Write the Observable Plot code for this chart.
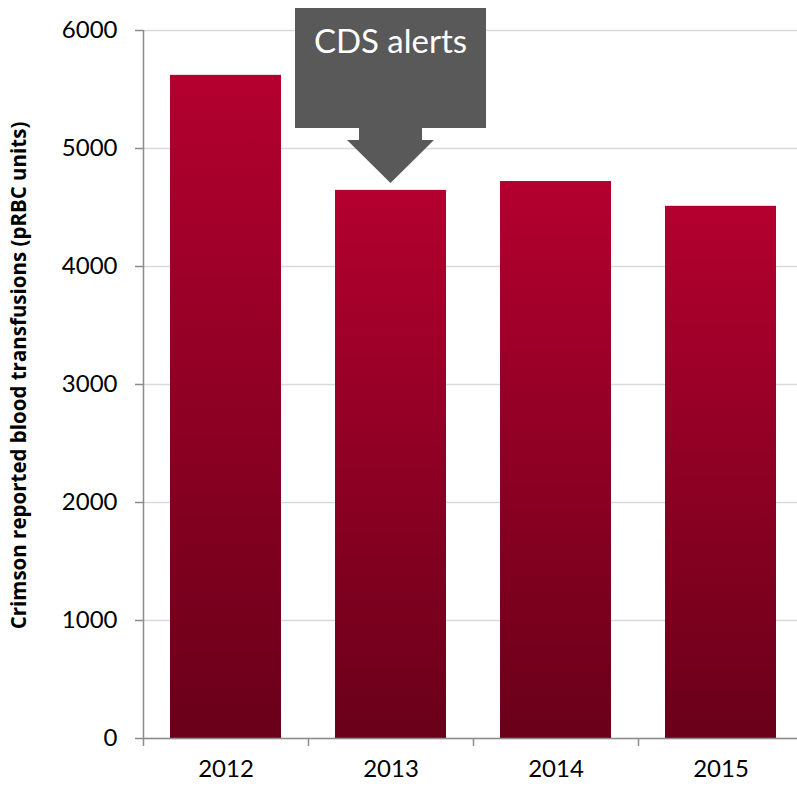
<!DOCTYPE html>
<html><head><meta charset="utf-8">
<script src="https://cdn.jsdelivr.net/npm/d3@7"></script>
<script src="https://cdn.jsdelivr.net/npm/@observablehq/plot@0.6"></script>
<style>body{margin:0;background:#fff}</style>
</head><body><div id="chart"></div>
<script>
const years = ["2012", "2013", "2014", "2015"];
const transfusions = [5620, 4645, 4720, 4510];
const yTicks = [0, 1000, 2000, 3000, 4000, 5000, 6000];
const yTitle = "Crimson reported blood transfusions (pRBC units)";
const annotationYear = "2013";
const annotationLabel = "CDS alerts";

const data = years.map((year, i) => ({year, value: transfusions[i]}));
const font = "Lato, 'Open Sans', sans-serif";
const axisGray = "#8c8c8c";

const defs = () => {
  const g = d3.create("svg:defs");
  const lg = g.append("linearGradient").attr("id", "barGrad")
    .attr("x1", 0).attr("y1", 0).attr("x2", 0).attr("y2", 1);
  lg.append("stop").attr("offset", "0%").attr("stop-color", "#b3002f");
  lg.append("stop").attr("offset", "100%").attr("stop-color", "#690019");
  return g.node();
};

const plot = Plot.plot({
  width: 797, height: 787,
  marginTop: 30, marginBottom: 49, marginLeft: 143, marginRight: 0,
  style: {fontFamily: font, background: "#fff", overflow: "visible"},
  x: {domain: years, range: [143, 803], paddingInner: 0.33, paddingOuter: 0.165, label: null},
  y: {domain: [0, 6000], label: null},
  marks: [
    defs,
    Plot.gridY(yTicks, {stroke: "#d9d9d9", strokeOpacity: 1, strokeWidth: 1.3}),
    Plot.barY(data, {x: "year", y: "value", fill: "url(#barGrad)"}),
    Plot.ruleY([0], {stroke: axisGray, strokeWidth: 1.5}),
    Plot.ruleX([years[0]], {y1: 0, y2: 6000, dx: -82.5, stroke: axisGray, strokeWidth: 1.5}),
    Plot.ruleX(years, {y1: 0, y2: 0, insetBottom: -8, dx: -82.5, stroke: axisGray, strokeWidth: 1.5}),
    Plot.axisY(yTicks, {tickSize: 8, tickPadding: 18, fontSize: 24, tickFormat: d => String(d), stroke: axisGray, strokeWidth: 1.5, fill: "#000", label: null}),
    Plot.axisX({tickSize: 0, tickPadding: 21, fontSize: 24, fill: "#000", label: null}),
    Plot.text([yTitle], {frameAnchor: "left", textAnchor: "middle", rotate: -90, dx: -124, dy: -9, fontSize: 20.5, fontWeight: "bold", fontFamily: "'Open Sans', sans-serif", fill: "#000"})
  ]
});

document.getElementById("chart").appendChild(plot);

// annotation callout anchored to the 2013 bar through Plot's scales
const xs = plot.scale("x"), ys = plot.scale("y");
const idx = years.indexOf(annotationYear);
const cx = xs.apply(annotationYear) + xs.bandwidth / 2;
const tip = ys.apply(transfusions[idx]) - 7;
const pts = [
  [cx - 95.5, tip - 175], [cx + 95.5, tip - 175], [cx + 95.5, tip - 55],
  [cx + 31.5, tip - 55], [cx + 31.5, tip - 43], [cx + 43.5, tip - 43],
  [cx, tip], [cx - 43.5, tip - 43], [cx - 31.5, tip - 43], [cx - 31.5, tip - 55],
  [cx - 95.5, tip - 55]
];
const svg = d3.select(plot);
const ann = svg.append("g");
ann.append("path").attr("d", "M" + pts.map(p => p.join(",")).join("L") + "Z").attr("fill", "#595959");
ann.append("text").attr("x", cx).attr("y", tip - 130).attr("text-anchor", "middle")
  .attr("fill", "#fff").attr("font-size", 33).attr("font-family", font).text(annotationLabel);
</script>
</body></html>
